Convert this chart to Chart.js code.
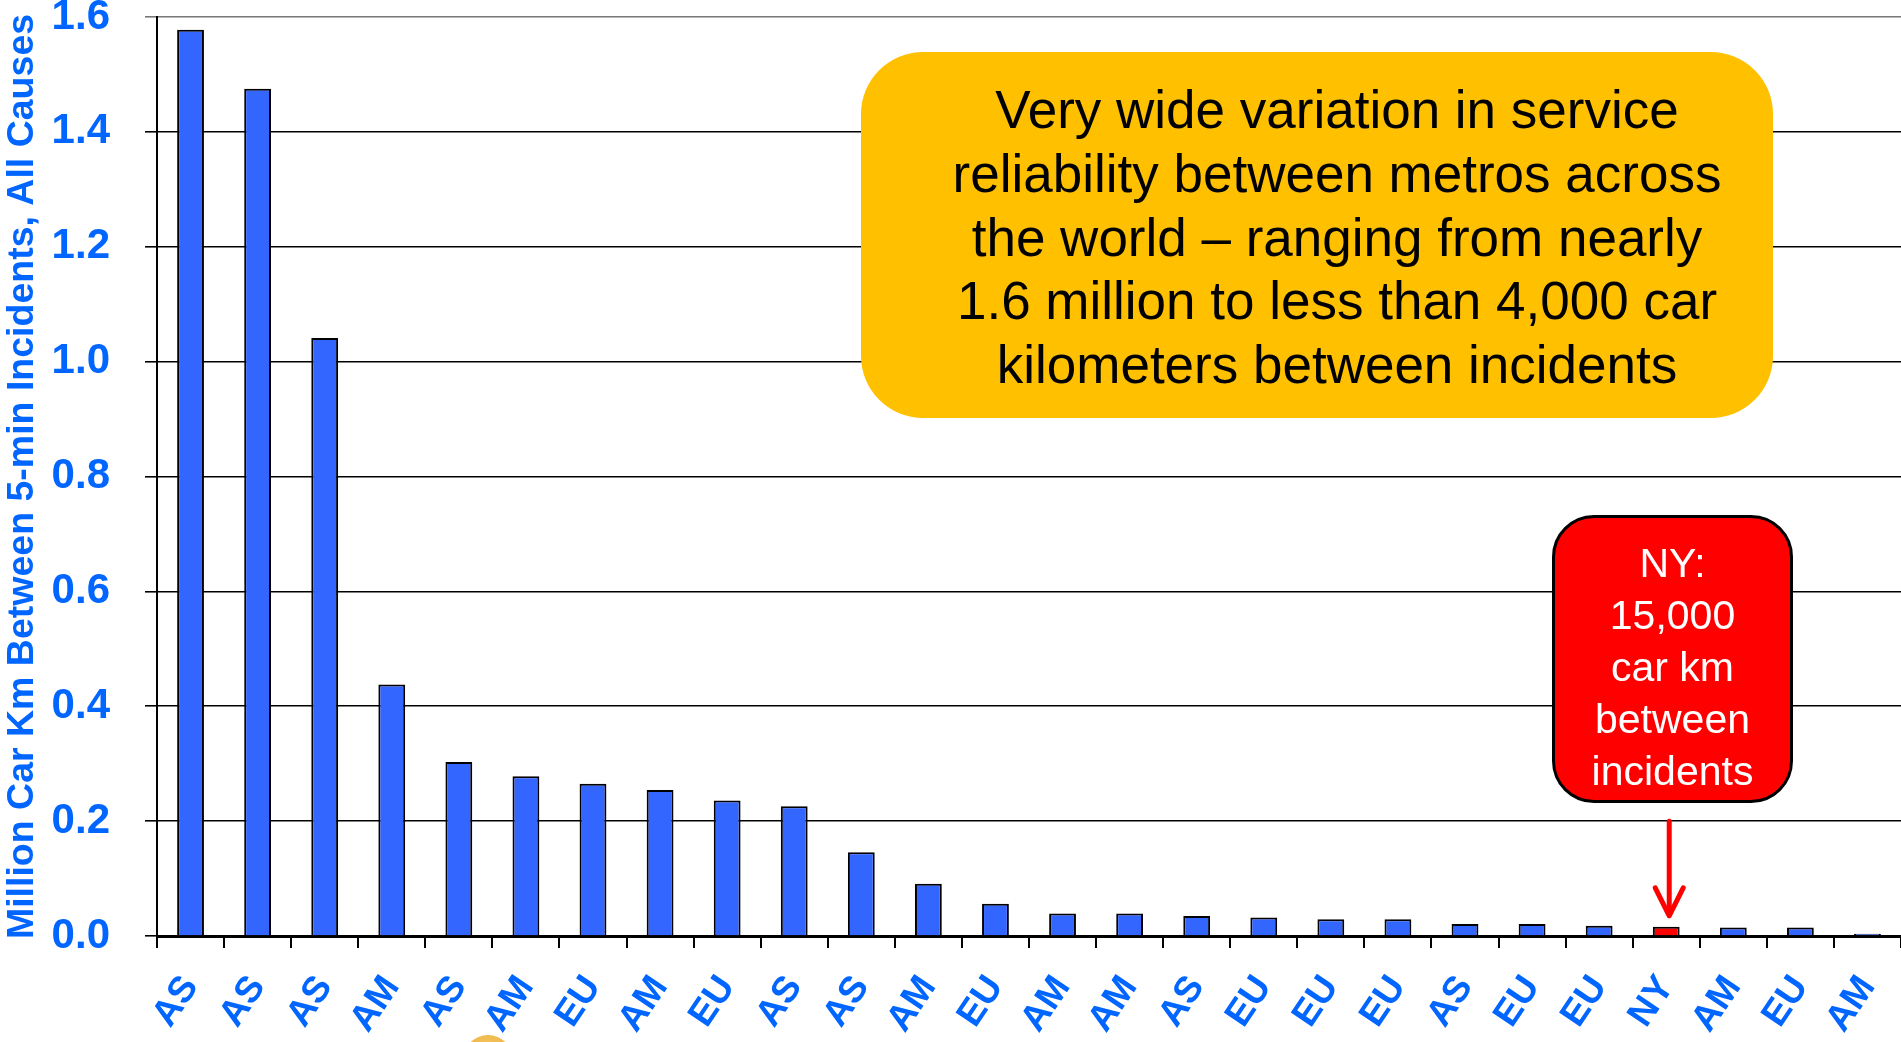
<!DOCTYPE html>
<html>
<head>
<meta charset="utf-8">
<script src="https://cdn.jsdelivr.net/npm/chart.js@4.4.1/dist/chart.umd.min.js"></script>
<style>
  html, body { margin: 0; padding: 0; background: #fff; }
  #wrap { position: relative; width: 1901px; height: 1042px; overflow: hidden; }
  .note { position: absolute; box-sizing: border-box; font-family: "Liberation Sans", Arial, sans-serif; text-align: center; }
  #gold { left: 861px; top: 52px; width: 912px; height: 366px; background: #FFC000; border-radius: 62px;
          font-size: 53px; line-height: 63.75px; color: #000; padding: 26px 0 0 40px; }
  #ny { left: 1552px; top: 515px; width: 241px; height: 288px; background: #FF0000; border: 3px solid #000;
        border-radius: 42px; font-size: 41px; line-height: 52px; color: #fff; padding-top: 19px; }
  #dot { left: 463px; top: 1035px; width: 50px; height: 50px; border-radius: 50%;
         background: radial-gradient(circle at 50% 30%, #F8C860, #E0A030); }
</style>
</head>
<body>
<div id="wrap">
  <canvas id="myChart" width="1901" height="1042"></canvas>
  <div class="note" id="gold">Very wide variation in service<br>reliability between metros across<br>the world – ranging from nearly<br>1.6 million to less than 4,000 car<br>kilometers between incidents</div>
  <div class="note" id="ny">NY:<br>15,000<br>car km<br>between<br>incidents</div>
  <div class="note" id="dot"></div>
</div>
<script>
const ctx = document.getElementById('myChart');

// metro region of each bar, left to right
const regions = ["AS","AS","AS","AM","AS","AM","EU","AM","EU","AS","AS","AM","EU",
                 "AM","AM","AS","EU","EU","EU","AS","EU","EU","NY","AM","EU","AM"];
// million car km between 5-min incidents
const carKm = [1.578, 1.475, 1.041, 0.438, 0.303, 0.278, 0.265, 0.254, 0.236, 0.226, 0.146, 0.091, 0.056,
               0.039, 0.039, 0.035, 0.032, 0.029, 0.029, 0.021, 0.021, 0.018, 0.016, 0.015, 0.015, 0.004];
const yTicks = [0, 0.2, 0.4, 0.6, 0.8, 1.0, 1.2, 1.4, 1.6];

const blue = '#3366FF';
const labelBlue = '#0066FF';

Chart.defaults.font.family = '"Liberation Sans", Arial, sans-serif';

// red arrow from the NY note down to the NY bar
const nyArrow = {
  id: 'nyArrow',
  afterDatasetsDraw(chart) {
    const i = regions.indexOf('NY');
    const bar = chart.getDatasetMeta(0).data[i];
    const x = bar.x + 3;
    const top = chart.scales.y.getPixelForValue(0.2);
    const tip = bar.y - 11;
    const c = chart.ctx;
    c.save();
    c.strokeStyle = '#FF0000';
    c.lineWidth = 5;
    c.lineCap = 'round';
    c.lineJoin = 'round';
    c.beginPath();
    c.moveTo(x, top);
    c.lineTo(x, tip - 2);
    c.stroke();
    c.beginPath();
    c.moveTo(x - 14, tip - 28);
    c.lineTo(x, tip);
    c.lineTo(x + 14, tip - 28);
    c.stroke();
    c.restore();
  }
};

new Chart(ctx, {
  type: 'bar',
  data: {
    labels: regions,
    datasets: [{
      data: carKm,
      backgroundColor: regions.map(r => r === 'NY' ? '#FF0000' : blue),
      borderColor: '#000',
      borderWidth: 2,
      barPercentage: 0.4,
      categoryPercentage: 1
    }]
  },
  options: {
    responsive: false,
    animation: false,
    layout: { padding: 0 },
    plugins: { legend: { display: false }, tooltip: { enabled: false } },
    scales: {
      x: {
        afterFit: s => { s.height = 106; s.paddingLeft = 0; s.paddingRight = 0; },
        grid: { display: true, drawOnChartArea: false, drawTicks: true, tickLength: 12, color: '#000', lineWidth: 2 },
        border: { display: true, color: '#000', width: 3 },
        ticks: {
          color: labelBlue,
          font: { size: 37, weight: 'bold' },
          autoSkip: false,
          minRotation: 56,
          maxRotation: 56,
          padding: 20
        }
      },
      y: {
        min: 0,
        max: 1.6,
        afterFit: s => { s.width = 157; s.paddingTop = 17; s.paddingBottom = 0; },
        afterBuildTicks: s => { s.ticks = yTicks.map(v => ({ value: v })); },
        grid: {
          color: c => c.tick && c.tick.value === 1.6 ? '#777' : '#000',
          lineWidth: 1.6,
          tickLength: 12
        },
        border: { display: true, color: '#000', width: 2 },
        ticks: {
          color: labelBlue,
          font: { size: 42, weight: 'bold' },
          padding: 35,
          callback: v => v.toFixed(1)
        },
        title: {
          display: true,
          text: 'Million Car Km Between 5-min Incidents, All Causes',
          color: labelBlue,
          font: { size: 37.5, weight: 'bold', lineHeight: 1.2 },
          padding: 0
        }
      }
    }
  },
  plugins: [nyArrow]
});
</script>
</body>
</html>
